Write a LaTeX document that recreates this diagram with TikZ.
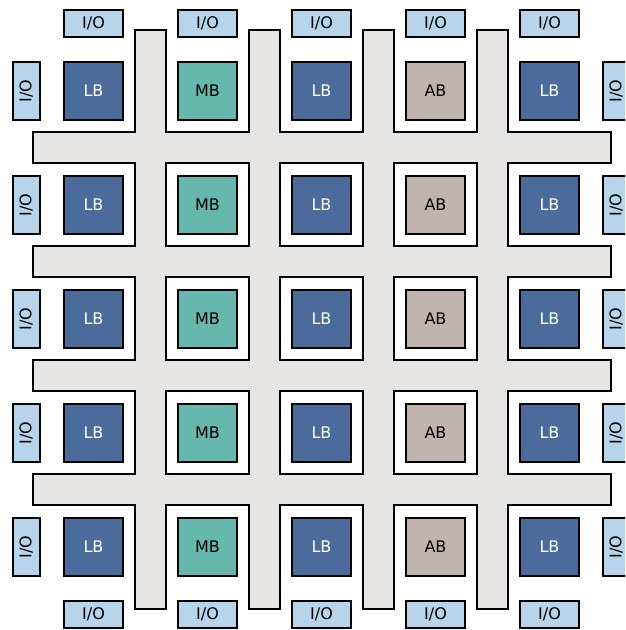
\documentclass[tikz,border=0pt]{standalone}
\usepackage{fontspec}
\setmainfont{DejaVu Sans}
\definecolor{LogicBlue}  {RGB}{75, 107, 155}
\definecolor{MemoryTeal} {RGB}{102, 184, 174}
\definecolor{ArithTaupe} {RGB}{192, 180, 175}
\definecolor{PadBlue}    {RGB}{182, 212, 234}
\definecolor{WireGray}   {RGB}{230, 229, 228}

\begin{document}
\begin{tikzpicture}[
  x=0.75pt, y=-0.75pt,
  font=\fontsize{12}{14}\selectfont,
  block/.style={
    draw=black, line width=1.5pt,
    minimum width=43.8pt, minimum height=43.8pt,
    inner sep=0pt
  },
  iopad/.style={
    draw=black, line width=1.5pt, fill=PadBlue,
    minimum width=43.8pt, minimum height=20.5pt,
    inner sep=0pt
  },
  wireedge/.style={draw=black, line width=3pt},
  wirefill/.style={fill=WireGray}
]
\clip (0,0) rectangle (625,630);

% Canaux de routage
\foreach \k in {0,...,3} {
  \draw[wireedge] ({136+114*\k},31) rectangle ({165+114*\k},608);
  \draw[wireedge] (33.5,{133+114*\k}) rectangle (609.5,{162+114*\k});
}
\foreach \k in {0,...,3} {
  \fill[wirefill] ({136+114*\k},31) rectangle ({165+114*\k},608);
  \fill[wirefill] (33.5,{133+114*\k}) rectangle (609.5,{162+114*\k});
}

% Blocs
\foreach \c/\t/\f/\tc in {0/LB/LogicBlue/white,1/MB/MemoryTeal/black,
    2/LB/LogicBlue/white,3/AB/ArithTaupe/black,4/LB/LogicBlue/white} {
  \foreach \r in {0,...,4} {
    \node[block, fill=\f, text=\tc] (blk-\c-\r) at ({93.5+114*\c},{91+114*\r}) {\t};
  }
}

% Entrées/sorties
\foreach \i in {0,...,4} {
  \node[iopad] (io-top-\i) at ({93.5+114*\i},23.7) {I/O};
  \node[iopad] (io-bot-\i) at ({93.5+114*\i},614.5) {I/O};
  \node[iopad, rotate=90] (io-left-\i) at (26.2,{91+114*\i}) {I/O};
  \node[iopad, rotate=90] (io-right-\i) at (616.2,{91+114*\i}) {I/O};
}
\end{tikzpicture}
\end{document}
